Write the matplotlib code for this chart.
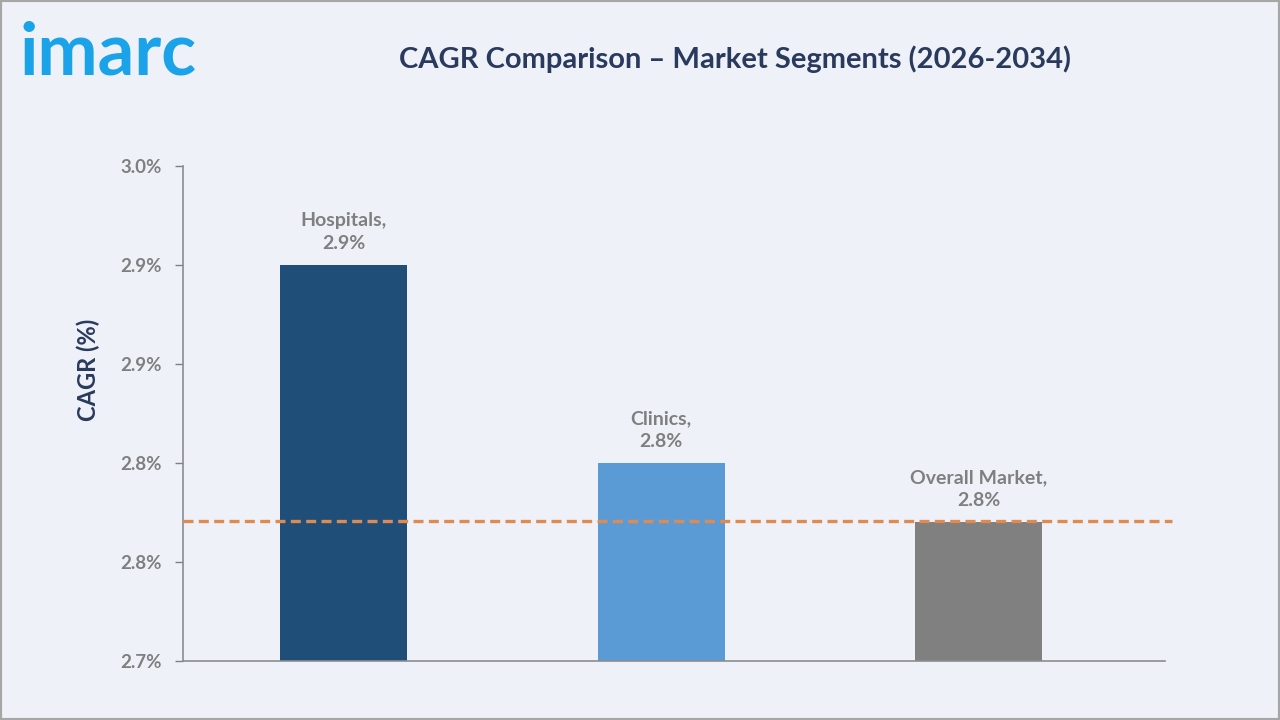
import matplotlib
matplotlib.use("Agg")
import matplotlib.pyplot as plt
from matplotlib.patches import Rectangle

# ---- data ----
segments = ["Hospitals", "Clinics", "Overall Market"]
cagr_values = [2.94, 2.82, 2.784]
value_labels = ["2.9%", "2.8%", "2.8%"]
bar_colors = ["#1F4E79", "#5B9BD5", "#808080"]
overall_cagr = 2.785
y_ticks = [2.70, 2.76, 2.82, 2.88, 2.94, 3.00]

plt.rcParams["font.family"] = ["Lato", "DejaVu Sans"]

bg = "#EEF2F8"
navy = "#2A3A5C"
grey = "#7F7F7F"

fig = plt.figure(figsize=(12.8, 7.2), dpi=100, facecolor=bg)
fig.patches.append(Rectangle((0, 0), 1, 1, transform=fig.transFigure,
                             fill=False, edgecolor="#A6A6A6", linewidth=3))

ax = fig.add_axes([0.143, 0.082, 0.767, 0.687], facecolor=bg)
x = list(range(len(segments)))
ax.bar(x, cagr_values, width=0.4, color=bar_colors, zorder=2)
ax.axhline(overall_cagr, xmax=1.007, color="#E08A4F", linestyle=(0, (3, 1.6)),
           linewidth=2.4, zorder=3, clip_on=False)

for xi, name, lab, val in zip(x, segments, value_labels, cagr_values):
    ax.text(xi, val + 0.008, f"{name},\n{lab}", ha="center", va="bottom",
            fontsize=14, fontweight="bold", color=grey, linespacing=1.4)

ax.set_xlim(-0.505, 2.586)
ax.set_ylim(2.70, 3.00)
ax.set_yticks(y_ticks)
ax.set_yticklabels([f"{v:.1f}%" for v in y_ticks])
ax.set_xticks([])
ax.tick_params(axis="y", colors=grey, labelsize=13.5, length=6, width=1, pad=9)
for lbl in ax.get_yticklabels():
    lbl.set_fontweight("bold")
for s in ["top", "right"]:
    ax.spines[s].set_visible(False)
for s in ["left", "bottom"]:
    ax.spines[s].set_color("#8C8C8C")
    ax.spines[s].set_linewidth(1.2)

fig.text(0.069, 0.486, "CAGR (%)", rotation=90, ha="center", va="center",
         fontsize=17, fontweight="bold", color=navy)
fig.text(0.574, 0.918, "CAGR Comparison \u2013 Market Segments (2026-2034)",
         ha="center", va="center", fontsize=21, fontweight="bold", color=navy)
fig.text(0.015, 0.925, "imarc", ha="left", va="center", fontsize=52,
         fontweight="bold", color="#1AA3E8")

fig.savefig("out.png", dpi=100, facecolor=bg)
